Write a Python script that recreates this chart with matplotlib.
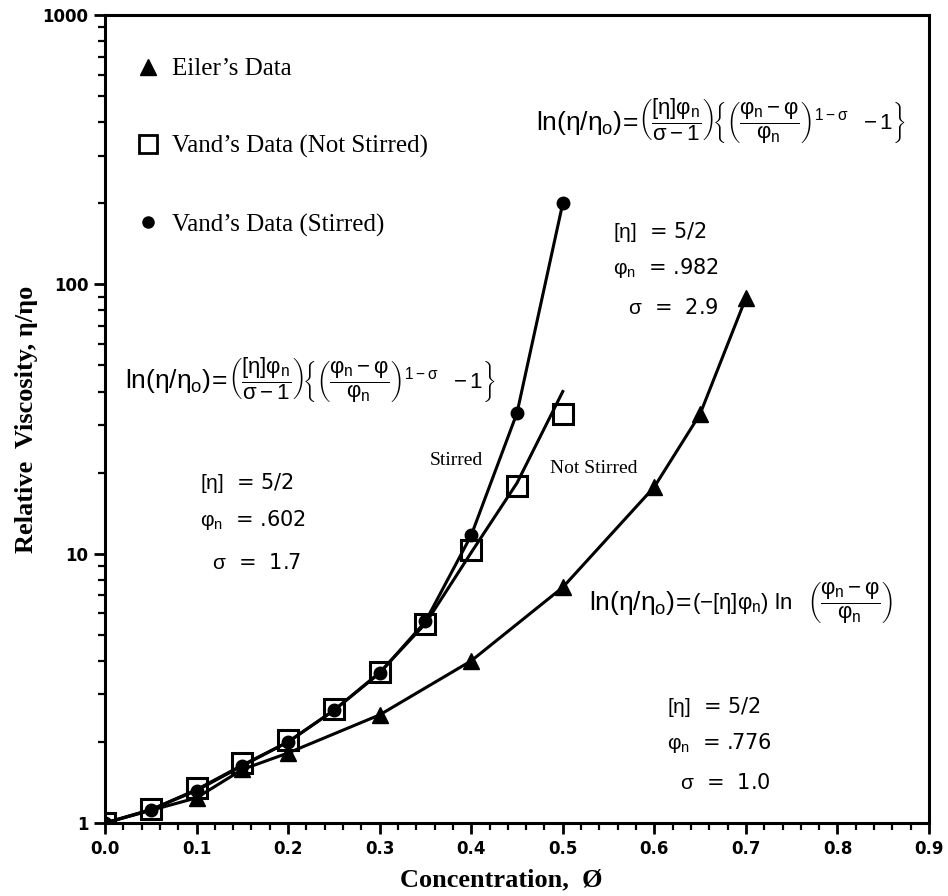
import numpy as np
import matplotlib.pyplot as plt
from matplotlib.lines import Line2D
from matplotlib.ticker import LogLocator, MultipleLocator, FixedLocator, NullFormatter, FuncFormatter

plt.rcParams['mathtext.fontset'] = 'custom'
plt.rcParams['mathtext.rm'] = 'Liberation Sans'
plt.rcParams['mathtext.it'] = 'Liberation Sans'
plt.rcParams['mathtext.bf'] = 'Liberation Sans:bold'

# Eiler's data (triangles)
eiler_x = [0.0, 0.1, 0.15, 0.2, 0.3, 0.4, 0.5, 0.6, 0.65, 0.7]
eiler_y = [1.0, 1.24, 1.58, 1.82, 2.52, 4.0, 7.5, 17.7, 33.0, 89.0]

# Vand's data
vand_x = [0.0, 0.05, 0.1, 0.15, 0.2, 0.25, 0.3, 0.35, 0.4, 0.45, 0.5]
stirred_y = [1.0, 1.12, 1.32, 1.63, 2.0, 2.62, 3.6, 5.6, 11.7, 33.3, 200.0]
not_stirred_y = [1.0, 1.13, 1.35, 1.67, 2.03, 2.64, 3.65, 5.5, 10.3, 17.8, 33.0]
# curve drawn for the not stirred data
not_stirred_fit = [1.0, 1.12, 1.33, 1.64, 2.0, 2.62, 3.62, 5.5, 10.1, 18.3, 40.0]

legend_labels = ["Eiler\u2019s Data", "Vand\u2019s Data (Not Stirred)", "Vand\u2019s Data (Stirred)"]

fig = plt.figure(figsize=(9.48, 8.96), dpi=100)
ax = fig.add_axes([105 / 948, 1 - 823 / 896, 824 / 948, 808 / 896])

ax.plot(eiler_x, eiler_y, color='black', lw=2.2, marker='^', ms=12)
ax.plot(vand_x, stirred_y, color='black', lw=2.2, marker='o', ms=9)
ax.plot(vand_x, not_stirred_fit, color='black', lw=2.2)
ax.plot(vand_x, not_stirred_y, ls='none', marker='s', ms=14, mfc='none', mec='black', mew=2.2)

ax.set_yscale('log')
ax.set_xlim(0, 0.9)
ax.set_ylim(1, 1000)

# ticks
ax.yaxis.set_major_locator(FixedLocator([1, 10, 100, 1000]))
ax.yaxis.set_major_formatter(FuncFormatter(lambda v, p: f'{v:g}'))
ax.yaxis.set_minor_locator(LogLocator(base=10, subs=np.arange(2, 10)))
ax.yaxis.set_minor_formatter(NullFormatter())
ax.xaxis.set_major_locator(MultipleLocator(0.1))
ax.xaxis.set_major_formatter(FuncFormatter(lambda v, p: f'{v:.1f}'))
ax.xaxis.set_minor_locator(MultipleLocator(0.02))
ax.tick_params(which='major', direction='out', length=8, width=2, labelsize=12, pad=4)
ax.tick_params(which='minor', direction='out', length=5, width=1.6)
for lab in ax.get_xticklabels() + ax.get_yticklabels():
    lab.set_fontweight('bold')
for sp in ax.spines.values():
    sp.set_linewidth(2.2)

ax.set_xlabel('Concentration,  \u00d8', family='Liberation Serif', weight='bold', fontsize=19)
ax.set_ylabel('Relative  Viscosity, \u03b7/\u03b7o', family='Liberation Serif', weight='bold', fontsize=19)
ax.xaxis.set_label_coords(0.481, -0.056)
ax.yaxis.set_label_coords(-0.081, 0.5)

handles = [
    Line2D([], [], ls='none', marker='^', ms=12, color='black'),
    Line2D([], [], ls='none', marker='s', ms=13, mfc='none', mec='black', mew=2),
    Line2D([], [], ls='none', marker='o', ms=8, color='black'),
]
ax.legend(handles, legend_labels, loc='upper left', bbox_to_anchor=(0.037, 0.947),
          frameon=False, prop={'family': 'Liberation Serif', 'size': 18},
          labelspacing=2.2, handlelength=1.0, handletextpad=0.46,
          borderpad=0, borderaxespad=0)

eq_lhs = r'$\ln(\eta/\eta_o)\!=$'
eq_power = (r'$\left(\dfrac{[\eta]\varphi_n}{\sigma-1}\right)\!'
            r'\left\{\left(\dfrac{\varphi_n - \varphi}{\varphi_n}\right)^{1-\sigma}\ \ -1\right\}$')
eq_log = (r'$\left(-[\eta]\varphi_n\right)\ \ln\ \ '
          r'\left(\dfrac{\varphi_n - \varphi}{\varphi_n}\right)$')

lhs = dict(transform=ax.transAxes, fontsize=19, color='black', ha='right', va='baseline')
rhs = dict(transform=ax.transAxes, fontsize=16, color='black', ha='left', va='baseline')
par = dict(transform=ax.transAxes, fontsize=15, color='black', ha='left', va='baseline')

# upper right equation + parameters (not stirred)
ax.text(0.647, 0.858, eq_lhs, **lhs)
ax.text(0.647, 0.858, eq_power, **rhs)
ax.text(0.617, 0.724, r'$[\eta]$  = 5/2', **par)
ax.text(0.617, 0.680, r'$\varphi_n$  = .982', **par)
ax.text(0.635, 0.630, r'$\sigma$  =  2.9', **par)

# left equation + parameters (stirred)
ax.text(0.149, 0.538, eq_lhs, **lhs)
ax.text(0.149, 0.538, eq_power, **rhs)
ax.text(0.115, 0.413, r'$[\eta]$  = 5/2', **par)
ax.text(0.115, 0.368, r'$\varphi_n$  = .602', **par)
ax.text(0.130, 0.314, r'$\sigma$  =  1.7', **par)

# lower right equation + parameters (Eiler)
ax.text(0.712, 0.264, eq_lhs, **lhs)
ax.text(0.712, 0.264, eq_log, **rhs)
ax.text(0.682, 0.136, r'$[\eta]$  = 5/2', **par)
ax.text(0.682, 0.092, r'$\varphi_n$  = .776', **par)
ax.text(0.698, 0.042, r'$\sigma$  =  1.0', **par)

ax.text(0.427, 0.449, 'Stirred', transform=ax.transAxes, ha='center', va='center',
        family='Liberation Serif', fontsize=14)
ax.text(0.593, 0.439, 'Not Stirred', transform=ax.transAxes, ha='center', va='center',
        family='Liberation Serif', fontsize=14)

fig.savefig('out.png', dpi=100)
